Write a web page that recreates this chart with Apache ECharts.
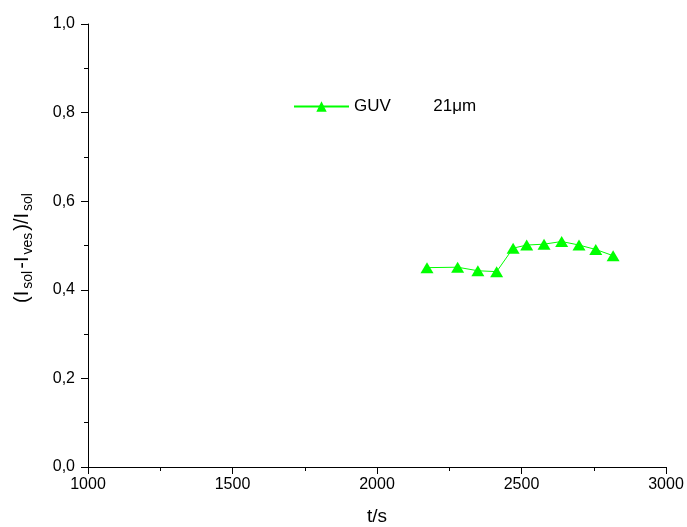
<!DOCTYPE html>
<html>
<head>
<meta charset="utf-8">
<script src="https://cdn.jsdelivr.net/npm/echarts@6/dist/echarts.min.js"></script>
<style>
  html, body { margin: 0; padding: 0; background: #fff; }
  #chart { width: 687px; height: 527px; }
</style>
</head>
<body>
<div id="chart"></div>
<script>
// values
const timeS = [2173, 2279, 2349, 2414, 2471, 2518, 2578, 2639, 2699, 2757, 2817];
const ratio = [0.450, 0.451, 0.443, 0.441, 0.494, 0.501, 0.503, 0.509, 0.501, 0.491, 0.477];
const seriesName = 'GUV         21\u03bcm';
const yTitle = '{m|(I}{s|sol}{m|-I}{s|ves}{m|)/I}{s|sol}';

const font = '"Liberation Sans", Arial, sans-serif';
const comma = v => v.toFixed(1).replace('.', ',');

const chart = echarts.init(document.getElementById('chart'));
chart.setOption({
  animation: false,
  grid: { left: 88, right: 21, top: 24, bottom: 60, outerBoundsMode: 'none' },
  legend: {
    left: 288,
    top: 93,
    itemWidth: 55,
    itemHeight: 13,
    itemGap: 6,
    textStyle: { fontFamily: font, fontSize: 17, color: '#000' },
    data: [seriesName],
  },
  graphic: [{
    type: 'text',
    x: 22,
    y: 248,
    rotation: Math.PI / 2,
    style: {
      text: yTitle,
      align: 'center',
      verticalAlign: 'middle',
      fill: '#000',
      rich: {
        m: { fontFamily: font, fontSize: 20, fill: '#000', lineHeight: 22, padding: [0, 1, 0, 1] },
        s: { fontFamily: font, fontSize: 14, fill: '#000', lineHeight: 14, padding: [13, 1, 0, 1] },
      },
    },
  }],
  xAxis: {
    type: 'value',
    min: 1000,
    max: 3000,
    interval: 500,
    name: 't/s',
    nameLocation: 'middle',
    nameGap: 40,
    nameTextStyle: { fontFamily: font, fontSize: 19, color: '#000' },
    axisLine: { lineStyle: { color: '#000', width: 1 } },
    axisTick: { length: 7, lineStyle: { color: '#000' } },
    minorTick: { show: true, splitNumber: 2, length: 4, lineStyle: { color: '#000' } },
    axisLabel: { fontFamily: font, fontSize: 16, color: '#000', margin: 10, formatter: v => String(v) },
    splitLine: { show: false },
  },
  yAxis: {
    type: 'value',
    min: 0,
    max: 1,
    interval: 0.2,
    axisLine: { show: true, lineStyle: { color: '#000', width: 1 } },
    axisTick: { show: true, length: 7, lineStyle: { color: '#000' } },
    minorTick: { show: true, splitNumber: 2, length: 4, lineStyle: { color: '#000' } },
    axisLabel: { fontFamily: font, fontSize: 16, color: '#000', margin: 13, formatter: comma },
    splitLine: { show: false },
  },
  series: [{
    name: seriesName,
    type: 'line',
    data: timeS.map((t, i) => [t, ratio[i]]),
    symbol: 'triangle',
    symbolSize: [13, 11],
    itemStyle: { color: '#00ff00' },
    lineStyle: { color: '#00ff00', width: 1 },
  }],
});
</script>
</body>
</html>
